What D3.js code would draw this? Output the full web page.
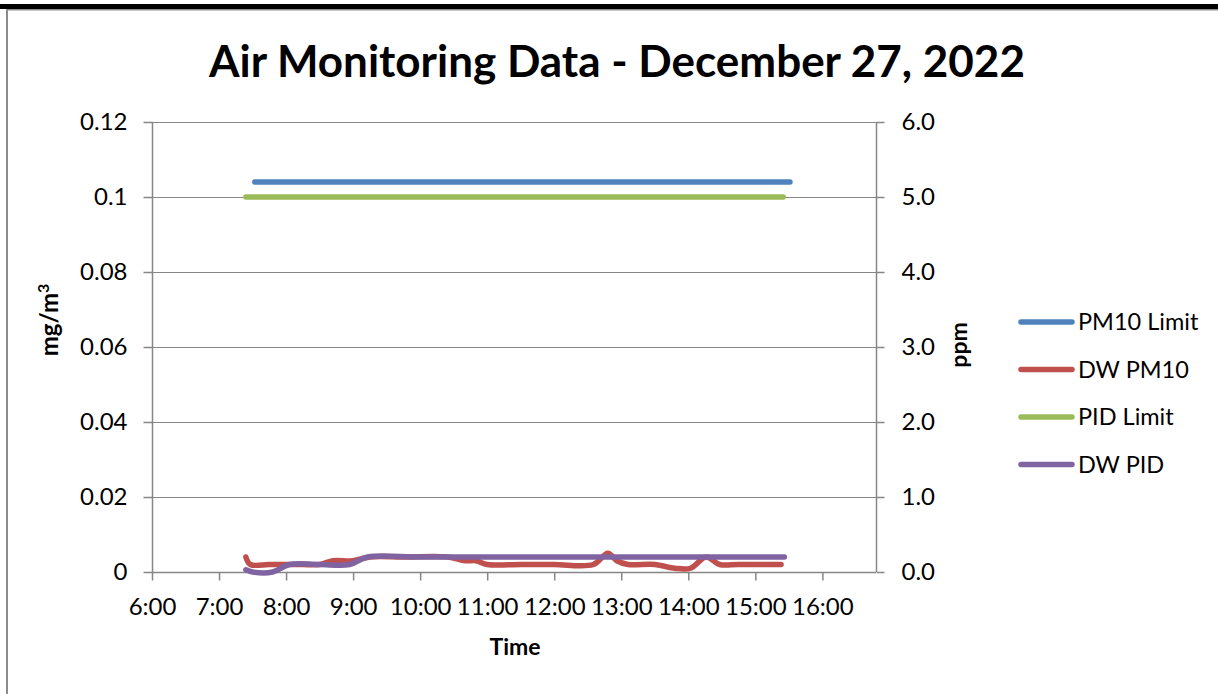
<!DOCTYPE html>
<html>
<head>
<meta charset="utf-8">
<script src="https://cdn.jsdelivr.net/npm/d3@7"></script>
<style>
  html, body { margin: 0; padding: 0; background: #fff; }
  svg { display: block; font-family: Lato, "Open Sans", sans-serif; }
</style>
</head>
<body>
<svg id="chart" width="1218" height="694"></svg>
<script>
// series data (time of day, value)
const pm10LimitTimes = ["7:32", "15:31"];
const pm10LimitValues = [0.104, 0.104];

const pm10Times = ["7:24", "7:28", "7:45", "8:00", "8:15", "8:30", "8:42", "9:00", "9:15", "9:45",
  "10:25", "10:40", "10:50", "11:00", "11:30", "12:00", "12:35", "12:48", "12:56", "13:06",
  "13:30", "13:48", "14:02", "14:16", "14:28", "14:45", "15:23"];
const pm10Values = [0.004, 0.002, 0.002, 0.002, 0.002, 0.002, 0.003, 0.003, 0.004, 0.004,
  0.004, 0.003, 0.003, 0.002, 0.002, 0.002, 0.002, 0.005, 0.003, 0.002,
  0.002, 0.001, 0.001, 0.004, 0.002, 0.002, 0.002];

const pidLimitTimes = ["7:24", "15:25"];
const pidLimitValues = [5.0, 5.0];

const pidTimes = ["7:24", "7:30", "7:48", "8:03", "8:30", "8:57", "9:13", "10:00", "11:00", "12:00",
  "13:00", "14:00", "15:00", "15:26"];
const pidValues = [0.03, 0.0, 0.0, 0.1, 0.1, 0.1, 0.2, 0.2, 0.2, 0.2,
  0.2, 0.2, 0.2, 0.2];

const xTicks = [6, 7, 8, 9, 10, 11, 12, 13, 14, 15, 16];
const leftTicks = [0, 0.02, 0.04, 0.06, 0.08, 0.1, 0.12];
const rightTicks = [0, 1, 2, 3, 4, 5, 6];

const legendNames = ["PM10 Limit", "DW PM10", "PID Limit", "DW PID"];
const colors = ["#4F81BD", "#C0504D", "#9BBB59", "#8064A2"];

const toHours = s => { const p = s.split(":"); return +p[0] + +p[1] / 60; };

const svg = d3.select("#chart");
const W = 1218, H = 694;
const plot = { left: 152, right: 876, top: 122, bottom: 572 };

// outer frame
svg.append("rect").attr("x", 7).attr("y", 9.5).attr("width", W + 20).attr("height", H + 20)
  .attr("fill", "none").attr("stroke", "#8c8c8c").attr("stroke-width", 2);
svg.append("rect").attr("x", 0).attr("y", 4).attr("width", W).attr("height", 5).attr("fill", "#000");

const x = d3.scaleLinear().domain([6, 16.8]).range([plot.left, plot.right]);
const yL = d3.scaleLinear().domain([0, 0.12]).range([plot.bottom, plot.top]);
const yR = d3.scaleLinear().domain([0, 6]).range([plot.bottom, plot.top]);

const axisColor = "#868686";

// gridlines
svg.append("g").selectAll("line").data(leftTicks.slice(1)).join("line")
  .attr("x1", plot.left).attr("x2", plot.right)
  .attr("y1", d => Math.round(yL(d)) + 0.5).attr("y2", d => Math.round(yL(d)) + 0.5)
  .attr("stroke", axisColor).attr("stroke-width", 1);

// left axis
const gL = svg.append("g").attr("transform", `translate(${plot.left + 0.5},0)`)
  .call(d3.axisLeft(yL).tickValues(leftTicks).tickSize(9).tickPadding(16).tickFormat(d => d3.format("")(+d.toFixed(2))));
// right axis
const gR = svg.append("g").attr("transform", `translate(${plot.right + 0.5},0)`)
  .call(d3.axisRight(yR).tickValues(rightTicks).tickSize(8).tickPadding(17).tickFormat(d3.format(".1f")));
// bottom axis
const gB = svg.append("g").attr("transform", `translate(0,${plot.bottom + 0.5})`)
  .call(d3.axisBottom(x).tickValues(xTicks).tickSize(8).tickPadding(17).tickFormat(d => d + ":00"));

[gL, gR, gB].forEach(g => {
  g.select(".domain").attr("stroke", axisColor).attr("stroke-width", 1.5);
  g.selectAll(".tick line").attr("stroke", axisColor).attr("stroke-width", 1.5);
  g.selectAll(".tick text").attr("fill", "#000").attr("font-size", 24).attr("font-family", "Lato");
});
gB.select(".domain").attr("d", `M${plot.left},0H${plot.right}`);
gL.select(".domain").attr("d", `M0,${plot.bottom}V${plot.top}`);
gR.select(".domain").attr("d", `M0,${plot.bottom}V${plot.top}`);

// series
const series = [
  { t: pm10LimitTimes, v: pm10LimitValues, y: yL },
  { t: pm10Times, v: pm10Values, y: yL },
  { t: pidLimitTimes, v: pidLimitValues, y: yR },
  { t: pidTimes, v: pidValues, y: yR }
];
const drawOrder = [0, 2, 1, 3];
drawOrder.forEach(i => {
  const s = series[i];
  const pts = s.t.map((t, j) => [toHours(t), s.v[j]]);
  const line = d3.line().x(d => x(d[0])).y(d => s.y(d[1])).curve(d3.curveCatmullRom.alpha(0.5));
  svg.append("path").datum(pts).attr("d", line)
    .attr("fill", "none").attr("stroke", colors[i]).attr("stroke-width", 5.5)
    .attr("stroke-linecap", "round").attr("stroke-linejoin", "round");
});

// title
svg.append("text").attr("x", 617).attr("y", 77).attr("text-anchor", "middle")
  .attr("font-size", 44).attr("font-weight", "bold").text("Air Monitoring Data - December 27, 2022");

// axis titles
svg.append("text").attr("x", 515).attr("y", 655).attr("text-anchor", "middle")
  .attr("font-size", 23).attr("font-weight", "bold").text("Time");
const yt = svg.append("text").attr("transform", "translate(58,320) rotate(-90)").attr("text-anchor", "middle")
  .attr("font-size", 24).attr("font-weight", "bold");
yt.append("tspan").text("mg/m");
yt.append("tspan").attr("dy", -9).attr("font-size", 16).text("3");
svg.append("text").attr("transform", "translate(967,345) rotate(-90)").attr("text-anchor", "middle")
  .attr("font-size", 23).attr("font-weight", "bold").text("ppm");

// legend
const lg = svg.append("g").selectAll("g").data(legendNames).join("g")
  .attr("transform", (d, i) => `translate(1019,${322 + i * 47.5})`);
lg.append("line").attr("x1", 2).attr("x2", 53)
  .attr("stroke", (d, i) => colors[i]).attr("stroke-width", 5.5).attr("stroke-linecap", "round");
lg.append("text").attr("x", 59).attr("y", 8).attr("font-size", 23.5).text(d => d);
</script>
</body>
</html>
